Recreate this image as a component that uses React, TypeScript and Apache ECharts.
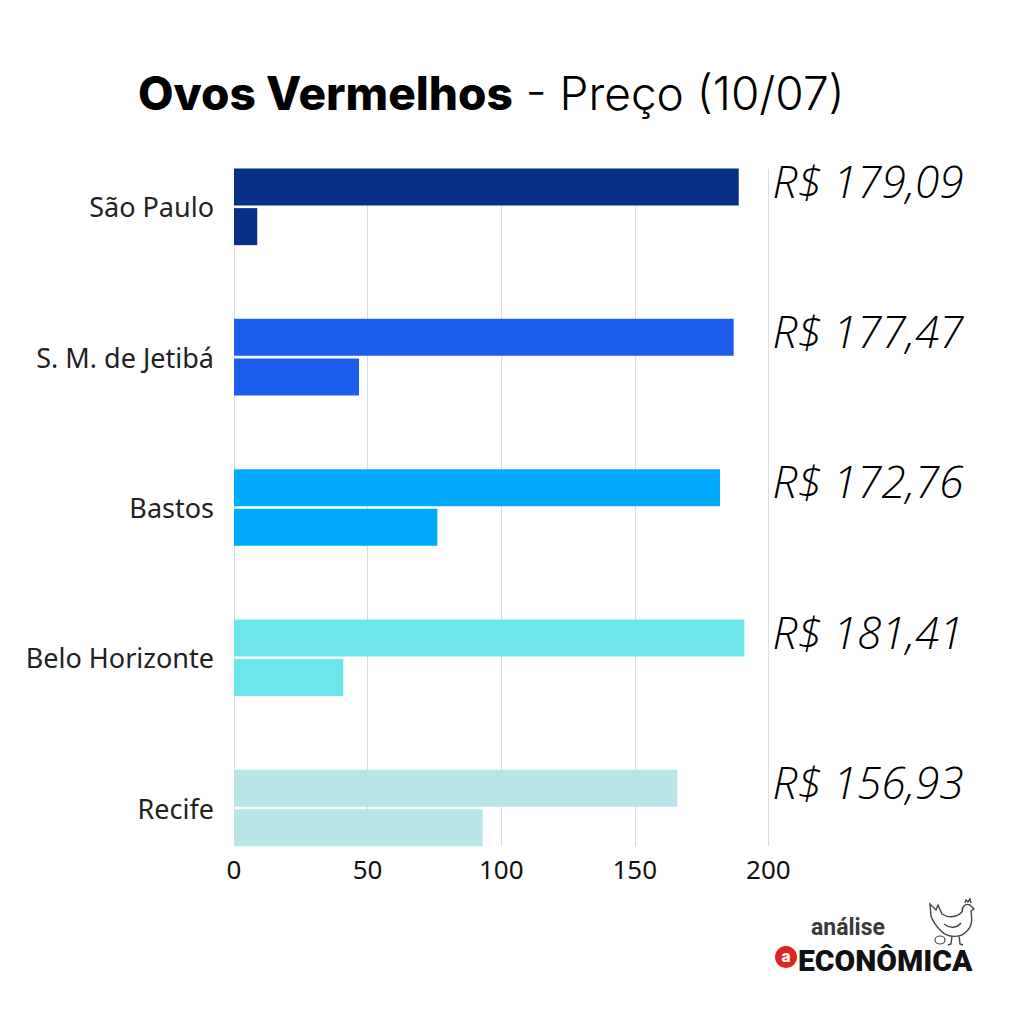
import React, { useEffect, useRef } from "react";
import * as echarts from "echarts";

const cities = ["São Paulo", "S. M. de Jetibá", "Bastos", "Belo Horizonte", "Recife"];
const longValues = [188.9, 187.0, 181.9, 191.0, 165.9];
const shortValues = [8.7, 46.8, 76.1, 40.9, 93.1];
const priceLabels = ["R$ 179,09", "R$ 177,47", "R$ 172,76", "R$ 181,41", "R$ 156,93"];
const cityColors = ["#062f86", "#1b5dec", "#02aafd", "#6ce6ea", "#b8e6e8"];
const xTicks = [0, 50, 100, 150, 200];

const chickenD =
  "M36 14 C36 8 40 5 44 7 L48 11 L45 13 C46 20 47 28 40 34 C34 40 22 40 15 33 C10 28 7 24 5 18 " +
  "L4 6 L10 12 L12 7 L16 16 C22 20 30 20 36 14 Z M39 5 L40 2 L42 4 L44 1 L45 5 " +
  "M26 38 L25 46 L22 47 M33 37 L34 46 L37 47 M18 26 C24 31 31 30 35 25";

export default function App() {
  const ref = useRef<HTMLDivElement>(null);
  useEffect(() => {
    if (!ref.current) return;
    try {
      echarts.graphic.registerShape("logo", echarts.graphic.extendPath(chickenD, {}));
    } catch (e) {}
    const chart = echarts.init(ref.current, null, { renderer: "svg" });
    const plotLeft = 234;
    const plotWidth = 534.4;
    const option: any = {
      animation: false,
      backgroundColor: "#ffffff",
      title: {
        left: 133,
        top: 65,
        text: "{b|Ovos Vermelhos}{l| - Preço (10/07)}",
        textStyle: {
          rich: {
            b: { fontFamily: "Inter", fontWeight: 800, fontSize: 46, color: "#000" },
            l: { fontFamily: "Inter", fontWeight: 300, fontSize: 46, color: "#000" },
          },
        },
      },
      grid: [
        { left: plotLeft, width: plotWidth, top: 131.7, height: 751.5 },
        { left: plotLeft, width: plotWidth, top: 169, height: 677 },
      ],
      xAxis: [
        { type: "value", gridIndex: 0, min: 0, max: 200, show: false },
        {
          type: "value",
          gridIndex: 1,
          min: 0,
          max: 200,
          interval: 50,
          axisLine: { show: false },
          axisTick: { show: false },
          splitLine: { show: true, lineStyle: { color: "#dcdcdc", width: 1 } },
          axisLabel: {
            margin: 10,
            fontSize: 26,
            color: "#111",
            fontFamily: "Noto Sans",
            formatter: (v: number) => (xTicks.includes(v) ? String(v) : ""),
          },
        },
      ],
      yAxis: [
        {
          type: "category",
          gridIndex: 0,
          data: cities,
          inverse: true,
          axisLine: { show: false },
          axisTick: { show: false },
          splitLine: { show: false },
          axisLabel: { margin: 20, fontSize: 27, color: "#222", fontFamily: "Noto Sans" },
        },
        { type: "value", gridIndex: 1, show: false, min: 0, max: 1 },
      ],
      series: [
        {
          type: "bar",
          xAxisIndex: 0,
          yAxisIndex: 0,
          barWidth: 37,
          barGap: "7%",
          data: longValues.map((v, i) => ({ value: v, itemStyle: { color: cityColors[i] } })),
          z: 3,
        },
        {
          type: "bar",
          xAxisIndex: 0,
          yAxisIndex: 0,
          barWidth: 37,
          barGap: "7%",
          data: shortValues.map((v, i) => ({ value: v, itemStyle: { color: cityColors[i] } })),
          z: 3,
        },
      ],
    };
    chart.setOption(option);

    const labels = priceLabels.map((t, i) => {
      const cy = chart.convertToPixel({ yAxisIndex: 0 }, cities[i]) as number;
      return {
        type: "text",
        x: 868,
        y: cy - 26,
        style: {
          text: t,
          fill: "#000",
          fontSize: 44,
          fontStyle: "italic",
          fontWeight: 300,
          fontFamily: "Open Sans",
          align: "center",
          verticalAlign: "middle",
        },
      };
    });

    const logo = [
      { type: "circle", shape: { cx: 786, cy: 957, r: 11 }, style: { fill: "#e3231f" } },
      {
        type: "text",
        x: 786,
        y: 956,
        style: {
          text: "a",
          fill: "#fff",
          fontSize: 17,
          fontWeight: 900,
          fontFamily: "Roboto",
          align: "center",
          verticalAlign: "middle",
        },
      },
      {
        type: "text",
        x: 811,
        y: 927,
        style: {
          text: "análise",
          fill: "#3a3a3a",
          fontSize: 23,
          fontWeight: 700,
          fontFamily: "Roboto",
          verticalAlign: "middle",
        },
      },
      {
        type: "text",
        x: 798,
        y: 960,
        style: {
          text: "ECONÔMICA",
          fill: "#111",
          fontSize: 30,
          fontWeight: 900,
          fontFamily: "Roboto",
          verticalAlign: "middle",
        },
      },
      {
        type: "logo",
        x: 926,
        y: 898,
        scaleX: 1,
        scaleY: 1,
        style: { fill: "none", stroke: "#444", lineWidth: 1.4 },
      },
      {
        type: "ellipse",
        shape: { cx: 940, cy: 940, rx: 5, ry: 4 },
        style: { fill: "none", stroke: "#444", lineWidth: 1.2 },
      },
    ];

    chart.setOption({ graphic: [...labels, ...logo] });
    return () => chart.dispose();
  }, []);
  return (
    <div
      ref={ref}
      style={{ position: "absolute", left: 0, top: 0, width: 1024, height: 1024 }}
    />
  );
}
